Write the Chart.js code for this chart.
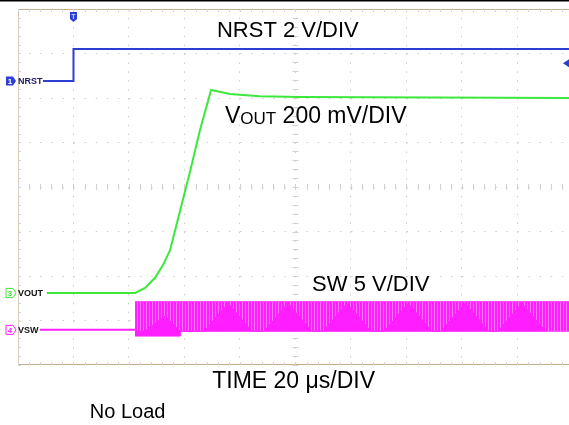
<!DOCTYPE html>
<html>
<head>
<meta charset="utf-8">
<script src="https://cdn.jsdelivr.net/npm/chart.js@4/dist/chart.umd.min.js"></script>
<style>
html, body { margin: 0; padding: 0; background: #fff; }
#wrap { width: 569px; height: 425px; position: relative; }
</style>
</head>
<body>
<div id="wrap"><canvas id="scope"></canvas></div>
<script>
// x: microseconds from trigger (20 us/div), y: screen divisions (0..8)
const timeTicks = [0, 20, 40, 60, 80, 100, 120, 140, 160];
const divTicks = [1, 2, 3, 4, 5, 6, 7];

const nrstTime = [-11.0, 0, 0, 178.6];
const nrstDiv  = [6.38, 6.38, 7.10, 7.10];

const voutTime = [-9.6, 22.2, 25.8, 29.4, 32.3, 34.8, 38.4, 42.0, 45.6, 49.6, 56.4, 67.2, 81.6, 178.6];
const voutDiv  = [1.62, 1.62, 1.73, 1.96, 2.25, 2.58, 3.46, 4.34, 5.28, 6.18, 6.09, 6.04, 6.02, 6.00];

const swIdleTime = [-12.1, 22.2];
const swIdleDiv  = [0.79, 0.79];

// switching band envelope
const swBandTime   = [22.2, 38.4, 38.5, 178.6];
const swBandTop    = [1.42, 1.42, 1.42, 1.42];
const swBandBottom = [0.65, 0.65, 0.76, 0.76];

// low strip during soft start
const swStripTime = [22.2, 38.4];
const swStripDiv  = [0.76, 0.76];

// denser triangles inside the switching band
const swTriTime = [25.6, 33.0, 38.4,
                   47.1, 55.7, 64.3,
                   68.7, 77.3, 85.9,
                   90.0, 98.6, 107.2,
                   112.0, 120.6, 129.2,
                   132.5, 141.1, 149.7,
                   153.0, 161.6, 170.2];
const swTriDiv  = [0.76, 1.10, 0.76,
                   0.76, 1.39, 0.76,
                   0.76, 1.39, 0.76,
                   0.76, 1.39, 0.76,
                   0.76, 1.39, 0.76,
                   0.76, 1.39, 0.76,
                   0.76, 1.39, 0.76];

const trigLevelDiv = 6.78;

const BLUE = '#2b3ed6';
const GREEN = '#3de83d';
const MAGENTA = '#ff1eff';

function pts(xs, ys) { return xs.map((x, i) => ({ x: x, y: ys[i] })); }

// stripe fill to mimic individual switching pulses
const pc = document.createElement('canvas');
pc.width = 3; pc.height = 4;
const pctx = pc.getContext('2d');
pctx.fillStyle = MAGENTA; pctx.fillRect(0, 0, 2, 4);
pctx.fillStyle = '#ff7aff'; pctx.fillRect(2, 0, 1, 4);
const stripes = pctx.createPattern(pc, 'repeat');

const graticule = {
    id: 'graticule',
    beforeDatasetsDraw(chart) {
        const { ctx, chartArea: a, scales: { x, y } } = chart;
        ctx.save();
        // frame
        ctx.fillStyle = '#000';
        ctx.fillRect(0, 0, chart.width, 1.5);
        ctx.strokeStyle = '#c6ad8e';
        ctx.lineWidth = 1;
        ctx.beginPath();
        ctx.moveTo(a.left, a.top + 0.5); ctx.lineTo(a.right, a.top + 0.5);
        ctx.moveTo(a.left, a.bottom - 0.5); ctx.lineTo(a.right, a.bottom - 0.5);
        ctx.stroke();
        ctx.strokeStyle = '#dccbb6';
        ctx.beginPath();
        ctx.moveTo(a.left + 0.5, a.top); ctx.lineTo(a.left + 0.5, a.bottom);
        ctx.stroke();
        // minor ticks on centre lines and frame
        ctx.strokeStyle = '#d2d2d2';
        ctx.beginPath();
        const cx = x.getPixelForValue(80), cy = y.getPixelForValue(4);
        for (let d = 0; d <= 8; d += 0.2) {
            const py = Math.round(y.getPixelForValue(d)) + 0.5;
            ctx.moveTo(cx - 3, py); ctx.lineTo(cx + 3, py);
            ctx.moveTo(a.left, py); ctx.lineTo(a.left + 3, py);
        }
        for (let t = -20; t <= 178.6; t += 4) {
            const px = Math.round(x.getPixelForValue(t)) + 0.5;
            ctx.moveTo(px, cy - 3); ctx.lineTo(px, cy + 3);
            ctx.moveTo(px, a.top); ctx.lineTo(px, a.top + 3);
            ctx.moveTo(px, a.bottom - 3); ctx.lineTo(px, a.bottom);
        }
        ctx.stroke();
        ctx.restore();
    }
};

function marker(ctx, px, py, num, color, filled, name, nameColor) {
    ctx.save();
    ctx.beginPath();
    ctx.moveTo(px, py - 4.5);
    ctx.lineTo(px + 7, py - 4.5);
    ctx.lineTo(px + 10, py);
    ctx.lineTo(px + 7, py + 4.5);
    ctx.lineTo(px, py + 4.5);
    ctx.closePath();
    if (filled) { ctx.fillStyle = color; ctx.fill(); }
    else { ctx.strokeStyle = color; ctx.lineWidth = 1; ctx.stroke(); }
    ctx.fillStyle = filled ? '#fff' : color;
    ctx.font = 'bold 8px "Liberation Sans", Arial, sans-serif';
    ctx.textAlign = 'center';
    ctx.textBaseline = 'middle';
    ctx.fillText(num, px + 4, py + 0.5);
    ctx.fillStyle = nameColor;
    ctx.font = 'bold 9px "Liberation Sans", Arial, sans-serif';
    ctx.textAlign = 'left';
    ctx.fillText(name, px + 12, py + 0.5);
    ctx.restore();
}

const labels = {
    id: 'labels',
    afterDatasetsDraw(chart) {
        const { ctx, chartArea: a, scales: { x, y } } = chart;
        const big = '22px "Liberation Sans", Arial, sans-serif';
        ctx.save();
        ctx.fillStyle = '#000';
        ctx.textBaseline = 'alphabetic';
        ctx.font = big;
        ctx.fillText('NRST 2 V/DIV', x.getPixelForValue(51.7), y.getPixelForValue(7.37));

        let vx = x.getPixelForValue(54.6);
        const vy = y.getPixelForValue(5.44);
        ctx.font = '23px "Liberation Sans", Arial, sans-serif';
        ctx.fillText('V', vx, vy);
        vx += ctx.measureText('V').width;
        ctx.font = '17px "Liberation Sans", Arial, sans-serif';
        ctx.fillText('OUT', vx, vy + 1);
        vx += ctx.measureText('OUT').width;
        ctx.font = '23px "Liberation Sans", Arial, sans-serif';
        ctx.fillText(' 200 mV/DIV', vx, vy);

        ctx.font = big;
        ctx.fillText('SW 5 V/DIV', x.getPixelForValue(86.0), y.getPixelForValue(1.67));

        ctx.font = '23px "Liberation Sans", Arial, sans-serif';
        ctx.fillText('TIME 20 \u03bcs/DIV', x.getPixelForValue(50.0), a.bottom + 23);
        ctx.font = '20px "Liberation Sans", Arial, sans-serif';
        ctx.fillText('No Load', x.getPixelForValue(5.9), a.bottom + 53);

        // channel markers
        marker(ctx, 6, y.getPixelForValue(nrstDiv[0]), '1', BLUE, true, 'NRST', '#1c1c60');
        marker(ctx, 6, y.getPixelForValue(voutDiv[0]), '3', GREEN, false, 'VOUT', '#111');
        marker(ctx, 6, y.getPixelForValue(swIdleDiv[0]), '4', MAGENTA, false, 'VSW', '#111');

        // trigger position marker
        const tx = x.getPixelForValue(0);
        ctx.fillStyle = BLUE;
        ctx.beginPath();
        ctx.moveTo(tx - 3.5, 12); ctx.lineTo(tx + 3.5, 12); ctx.lineTo(tx + 3.5, 19);
        ctx.lineTo(tx, 22); ctx.lineTo(tx - 3.5, 19); ctx.closePath();
        ctx.fill();
        ctx.fillStyle = '#cfd6ff';
        ctx.font = 'bold 7px "Liberation Sans", Arial, sans-serif';
        ctx.textAlign = 'center';
        ctx.fillText('T', tx, 18.5);

        // trigger level marker
        const ly = y.getPixelForValue(trigLevelDiv);
        ctx.fillStyle = BLUE;
        ctx.beginPath();
        ctx.moveTo(a.right - 6, ly); ctx.lineTo(a.right, ly - 4); ctx.lineTo(a.right, ly + 4);
        ctx.closePath();
        ctx.fill();
        ctx.restore();
    }
};

new Chart(document.getElementById('scope'), {
    type: 'line',
    data: {
        datasets: [
            { label: 'VOUT', data: pts(voutTime, voutDiv), borderColor: GREEN, borderWidth: 2, fill: false },
            { label: 'NRST', data: pts(nrstTime, nrstDiv), borderColor: BLUE, borderWidth: 2, fill: false },
            { label: 'VSW', data: pts(swIdleTime, swIdleDiv), borderColor: MAGENTA, borderWidth: 2, fill: false },
            { label: 'VSW dense', data: pts(swTriTime, swTriDiv), borderColor: MAGENTA, borderWidth: 1,
              backgroundColor: MAGENTA, fill: { value: 0.76 } },
            { label: 'VSW strip', data: pts(swStripTime, swStripDiv), borderColor: MAGENTA, borderWidth: 1,
              backgroundColor: MAGENTA, fill: { value: 0.65 } },
            { label: 'VSW top', data: pts(swBandTime, swBandTop), borderColor: MAGENTA, borderWidth: 1,
              backgroundColor: stripes, fill: '+1' },
            { label: 'VSW bottom', data: pts(swBandTime, swBandBottom), borderColor: MAGENTA, borderWidth: 1, fill: false }
        ]
    },
    options: {
        responsive: true,
        maintainAspectRatio: false,
        animation: false,
        layout: { padding: { left: 18, top: 9, right: 0, bottom: 60 } },
        elements: { point: { radius: 0 }, line: { tension: 0 } },
        scales: {
            x: {
                type: 'linear', min: -20, max: 178.6,
                afterBuildTicks: s => { s.ticks = timeTicks.map(v => ({ value: v })); },
                ticks: { display: false },
                grid: { color: '#cdcdcd', lineWidth: 1, drawTicks: false },
                border: { display: false, dash: [1.5, 7.4] }
            },
            y: {
                type: 'linear', min: 0, max: 8,
                afterBuildTicks: s => { s.ticks = divTicks.map(v => ({ value: v })); },
                ticks: { display: false },
                grid: { color: '#cdcdcd', lineWidth: 1, drawTicks: false },
                border: { display: false, dash: [1.5, 9.6] }
            }
        },
        plugins: { legend: { display: false }, tooltip: { enabled: false } }
    },
    plugins: [graticule, labels]
});
</script>
</body>
</html>
